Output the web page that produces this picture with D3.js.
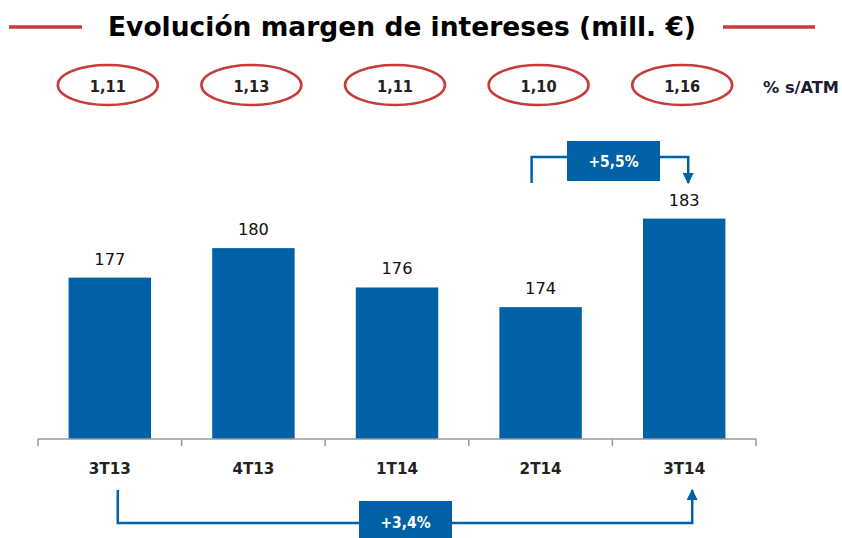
<!DOCTYPE html>
<html>
<head>
<meta charset="utf-8">
<script src="https://cdn.jsdelivr.net/npm/d3@7"></script>
<style>
  body { margin: 0; background: #fff; }
  svg { display: block; font-family: "DejaVu Sans", Verdana, sans-serif; }
</style>
</head>
<body>
<div id="chart"></div>
<script>
'use strict';

// data
const quarters = ['3T13', '4T13', '1T14', '2T14', '3T14'];
const margin = [177, 180, 176, 174, 183];
const atmRatio = ['1,11', '1,13', '1,11', '1,10', '1,16'];
const changeLabels = ['+5,5%', '+3,4%'];

const width = 842;
const height = 538;
const blue = '#0061a7';
const red = '#c83b3b';

const svg = d3.select('#chart').append('svg')
  .attr('width', width)
  .attr('height', height);

// scales
const x = d3.scaleBand()
  .domain(quarters)
  .range([38, 756])
  .paddingInner(0.426)
  .paddingOuter(0.213);

const y = d3.scaleLinear()
  .domain([160.6, 183])
  .range([439, 218.6]);

const cx = d => x(d) + x.bandwidth() / 2;
const step = x.step();

// title with red lines either side
svg.append('text')
  .attr('x', 108)
  .attr('y', 36)
  .attr('textLength', 588)
  .attr('lengthAdjust', 'spacingAndGlyphs')
  .style('font-size', '26px')
  .style('font-weight', 'bold')
  .attr('fill', '#000')
  .text('Evolución margen de intereses (mill. €)');

svg.selectAll('line.title-rule')
  .data([[9, 82], [723, 815]])
  .enter().append('line')
  .attr('class', 'title-rule')
  .attr('x1', d => d[0])
  .attr('x2', d => d[1])
  .attr('y1', 27)
  .attr('y2', 27)
  .attr('stroke', red)
  .attr('stroke-width', 3.5);

// % s/ATM ellipses
const atm = svg.append('g').attr('class', 'atm');
atm.selectAll('ellipse')
  .data(quarters)
  .enter().append('ellipse')
  .attr('cx', d => cx(d) - 2)
  .attr('cy', 85)
  .attr('rx', 50)
  .attr('ry', 20)
  .attr('fill', 'none')
  .attr('stroke', red)
  .attr('stroke-width', 2.6);

atm.selectAll('text')
  .data(quarters)
  .enter().append('text')
  .attr('x', d => cx(d) - 2)
  .attr('y', 92)
  .attr('text-anchor', 'middle')
  .style('font-size', '15.5px')
  .style('font-weight', 'bold')
  .attr('fill', '#222')
  .attr('textLength', 36)
  .attr('lengthAdjust', 'spacingAndGlyphs')
  .text((d, i) => atmRatio[i]);

svg.append('text')
  .attr('x', 763)
  .attr('y', 93)
  .style('font-size', '15px')
  .style('font-weight', 'bold')
  .attr('fill', '#1b1b33')
  .attr('textLength', 76)
  .attr('lengthAdjust', 'spacingAndGlyphs')
  .text('% s/ATM');

// bars
svg.append('g').attr('class', 'bars')
  .selectAll('rect')
  .data(quarters)
  .enter().append('rect')
  .attr('x', d => x(d))
  .attr('width', x.bandwidth())
  .attr('y', (d, i) => y(margin[i]))
  .attr('height', (d, i) => y.range()[0] - y(margin[i]))
  .attr('fill', blue);

// value labels
svg.append('g').attr('class', 'values')
  .selectAll('text')
  .data(quarters)
  .enter().append('text')
  .attr('x', d => cx(d))
  .attr('y', (d, i) => y(margin[i]) - 13)
  .attr('text-anchor', 'middle')
  .style('font-size', '16.5px')
  .attr('fill', '#111')
  .attr('textLength', 31)
  .attr('lengthAdjust', 'spacingAndGlyphs')
  .text((d, i) => margin[i]);

// axis: baseline and ticks at band boundaries
const base = y.range()[0];
const axisG = svg.append('g').attr('class', 'axis');
axisG.append('line')
  .attr('x1', x.range()[0]).attr('x2', x.range()[1])
  .attr('y1', base).attr('y2', base)
  .attr('stroke', '#999').attr('stroke-width', 1.5);

const bounds = quarters.map(d => x(d) - x.paddingOuter() * step).concat([x.range()[1]]);
axisG.selectAll('line.tick')
  .data(bounds)
  .enter().append('line')
  .attr('class', 'tick')
  .attr('x1', d => d).attr('x2', d => d)
  .attr('y1', base).attr('y2', base + 7)
  .attr('stroke', '#999').attr('stroke-width', 1.5);

svg.append('g')
  .attr('transform', `translate(0,${base})`)
  .call(d3.axisBottom(x).tickSize(0).tickPadding(23))
  .call(g => g.select('.domain').remove())
  .call(g => g.selectAll('text')
    .style('font-family', '"DejaVu Sans", Verdana, sans-serif')
    .style('font-size', '16.5px')
    .style('font-weight', 'bold')
    .attr('fill', '#222')
    .attr('textLength', 42)
    .attr('lengthAdjust', 'spacingAndGlyphs'));

// change annotations
const marker = svg.append('defs').append('marker')
  .attr('id', 'head')
  .attr('viewBox', '0 0 10 10')
  .attr('refX', 9)
  .attr('refY', 5)
  .attr('markerUnits', 'userSpaceOnUse')
  .attr('markerWidth', 11)
  .attr('markerHeight', 11)
  .attr('orient', 'auto');
marker.append('path').attr('d', 'M0,0L10,5L0,10Z').attr('fill', blue);

function bracket(x0, x1, yStart, yLevel, yEnd, boxX, boxY, boxW, boxH, label, textY) {
  const g = svg.append('g').attr('class', 'bracket');
  g.append('path')
    .attr('d', d3.line()([[x0, yStart], [x0, yLevel], [x1, yLevel], [x1, yEnd]]))
    .attr('fill', 'none')
    .attr('stroke', blue)
    .attr('stroke-width', 2.5)
    .attr('marker-end', 'url(#head)');
  g.append('rect')
    .attr('x', boxX).attr('y', boxY)
    .attr('width', boxW).attr('height', boxH)
    .attr('fill', blue);
  g.append('text')
    .attr('x', boxX + boxW / 2)
    .attr('y', textY)
    .attr('text-anchor', 'middle')
    .style('font-size', '16px')
    .style('font-weight', 'bold')
    .attr('fill', '#fff')
    .attr('textLength', 50)
    .attr('lengthAdjust', 'spacingAndGlyphs')
    .text(label);
}

// 2T14 -> 3T14
bracket(cx('2T14') - 9, cx('3T14') + 4, 183, 157, 183,
  567, 141, 93, 40, changeLabels[0], 167);

// 3T13 -> 3T14
bracket(cx('3T13') + 8, cx('3T14') + 8, 490, 523, 490,
  359, 501, 93, 45, changeLabels[1], 528);
</script>
</body>
</html>
